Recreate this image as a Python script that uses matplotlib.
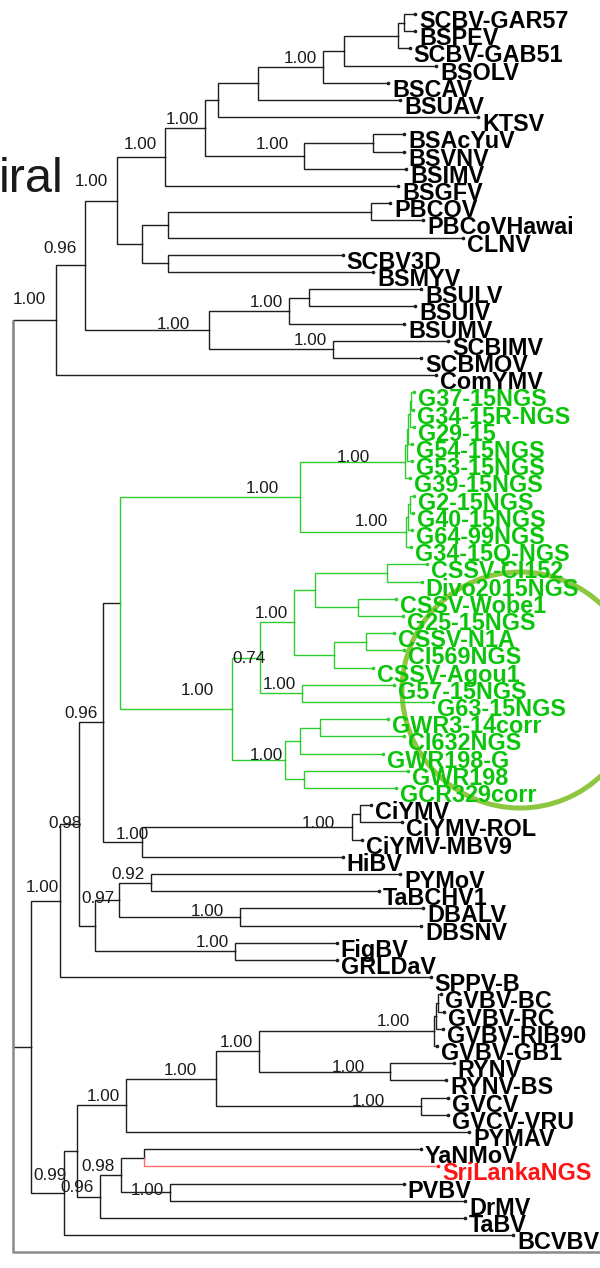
import matplotlib
matplotlib.use("Agg")
import matplotlib.pyplot as plt
from matplotlib import font_manager
from matplotlib.patches import Ellipse

# ========== DATOS ==========
TIP_NAMES = [
    "SCBV-GAR57", "BSPEV", "SCBV-GAB51", "BSOLV", "BSCAV", "BSUAV", "KTSV",
    "BSAcYuV", "BSVNV", "BSIMV", "BSGFV", "PBCOV", "PBCoVHawai", "CLNV",
    "SCBV3D", "BSMYV", "BSULV", "BSUIV", "BSUMV", "SCBIMV", "SCBMOV", "ComYMV",
    "G37-15NGS", "G34-15R-NGS", "G29-15", "G54-15NGS", "G53-15NGS", "G39-15NGS",
    "G2-15NGS", "G40-15NGS", "G64-99NGS", "G34-15Q-NGS",
    "CSSV-CI152", "Divo2015NGS", "CSSV-Wobe1", "G25-15NGS", "CSSV-N1A",
    "CI569NGS", "CSSV-Agou1", "G57-15NGS", "G63-15NGS", "GWR3-14corr",
    "CI632NGS", "GWR198-G", "GWR198", "GCR329corr",
    "CiYMV", "CiYMV-ROL", "CiYMV-MBV9", "HiBV", "PYMoV", "TaBCHV1", "DBALV",
    "DBSNV", "FigBV", "GRLDaV", "SPPV-B", "GVBV-BC", "GVBV-RC", "GVBV-RIB90",
    "GVBV-GB1", "RYNV", "RYNV-BS", "GVCV", "GVCV-VRU", "PYMAV", "YaNMoV",
    "SriLankaNGS", "PVBV", "DrMV", "TaBV", "BCVBV",
]
# profundidad de cada punta (misma escala que NODE_X)
TIP_X = [
    415, 415, 409.5, 436, 388, 400, 478,
    404, 404, 406, 398, 390, 423, 463,
    342.5, 373, 421, 415, 404, 448, 421, 436,
    414, 413, 414, 412, 412, 410,
    414, 413, 412, 411,
    427, 421.5, 396, 403, 394,
    404, 373, 394, 433, 388,
    404, 383, 407.6, 396,
    371, 402, 361.6, 342.5, 400, 379, 423,
    421, 336.8, 336.8, 430.5, 441, 444, 443,
    437, 453.5, 446, 448, 448, 469, 421,
    438, 403.7, 465, 465, 513,
]

CHILDREN = {
    "root": ["N1", "B"],
    "N1": ["N2", "ComYMV"],
    "N2": ["N3", "N4"],
    "N3": ["N5", "N6"],
    "N5": ["N7", "BSGFV"],
    "N7": ["N8", "N9"],
    "N8": ["N10", "KTSV"],
    "N10": ["N11", "BSUAV"],
    "N11": ["N12", "BSCAV"],
    "N12": ["N13", "BSOLV"],
    "N13": ["N14", "SCBV-GAB51"],
    "N14": ["SCBV-GAR57", "BSPEV"],
    "N9": ["N15", "BSIMV"],
    "N15": ["BSAcYuV", "BSVNV"],
    "N6": ["N16", "N17"],
    "N16": ["N18", "CLNV"],
    "N18": ["PBCOV", "PBCoVHawai"],
    "N17": ["SCBV3D", "BSMYV"],
    "N4": ["N19", "N20"],
    "N19": ["N21", "BSUMV"],
    "N21": ["BSULV", "BSUIV"],
    "N20": ["SCBIMV", "SCBMOV"],
    "B": ["C", "D"],
    "C": ["E", "SPPV-B"],
    "E": ["F", "G"],
    "F": ["H", "I"],
    "H": ["J", "K"],
    "J": ["L", "M"],
    "L": ["L4", "G39-15NGS"],
    "L4": ["L3", "G53-15NGS"],
    "L3": ["L2", "G54-15NGS"],
    "L2": ["L1", "G29-15"],
    "L1": ["G37-15NGS", "G34-15R-NGS"],
    "M": ["M2", "G34-15Q-NGS"],
    "M2": ["M1", "G64-99NGS"],
    "M1": ["G2-15NGS", "G40-15NGS"],
    "K": ["K1", "K2"],
    "K1": ["K3", "K4"],
    "K3": ["K5", "K6"],
    "K5": ["K7", "K8"],
    "K7": ["CSSV-CI152", "Divo2015NGS"],
    "K8": ["CSSV-Wobe1", "G25-15NGS"],
    "K6": ["K9", "CSSV-Agou1"],
    "K9": ["CSSV-N1A", "CI569NGS"],
    "K4": ["G57-15NGS", "G63-15NGS"],
    "K2": ["K10", "K11"],
    "K10": ["K12", "GWR198-G"],
    "K12": ["GWR3-14corr", "CI632NGS"],
    "K11": ["GWR198", "GCR329corr"],
    "I": ["I1", "HiBV"],
    "I1": ["I2", "CiYMV-MBV9"],
    "I2": ["CiYMV", "CiYMV-ROL"],
    "G": ["G1", "G2"],
    "G1": ["G3", "G4"],
    "G3": ["PYMoV", "TaBCHV1"],
    "G4": ["DBALV", "DBSNV"],
    "G2": ["FigBV", "GRLDaV"],
    "D": ["D1", "BCVBV"],
    "D1": ["D2", "D3"],
    "D2": ["D7", "PYMAV"],
    "D7": ["D8", "D9"],
    "D8": ["D10", "D11"],
    "D10": ["D10b", "GVBV-GB1"],
    "D10b": ["D10a", "GVBV-RIB90"],
    "D10a": ["GVBV-BC", "GVBV-RC"],
    "D11": ["RYNV", "RYNV-BS"],
    "D9": ["GVCV", "GVCV-VRU"],
    "D3": ["D4", "TaBV"],
    "D4": ["D5", "D6"],
    "D5": ["YaNMoV", "SriLankaNGS"],
    "D6": ["PVBV", "DrMV"],
}

NODE_X = {
    "root": 13.4, "N1": 56.3, "N2": 85, "N3": 116.7, "N5": 164.6, "N7": 204.7,
    "N8": 218, "N10": 258, "N11": 323, "N12": 344, "N13": 398, "N14": 404,
    "N9": 304, "N15": 373, "N6": 141.6, "N16": 168.4, "N18": 371, "N17": 168.4,
    "N4": 208.6, "N19": 289, "N21": 309, "N20": 333,
    "B": 30.6, "C": 60, "E": 79.2, "F": 103.3, "H": 119.8, "J": 300.4,
    "L": 405, "L4": 406.5, "L3": 408, "L2": 409.5, "L1": 411,
    "M": 405.6, "M2": 407.5, "M1": 409.5,
    "K": 231.5, "K1": 260, "K3": 294, "K5": 315, "K7": 386.5, "K8": 358,
    "K6": 334, "K9": 365.5, "K4": 302, "K2": 285, "K10": 300, "K12": 320,
    "K11": 303.5, "I": 141.6, "I1": 352, "I2": 360,
    "G": 94.5, "G1": 118.6, "G3": 151, "G4": 240, "G2": 235.4,
    "D": 64, "D1": 76.5, "D2": 126, "D7": 216, "D8": 259,
    "D10": 434, "D10b": 436, "D10a": 437.5, "D11": 390, "D9": 421,
    "D3": 100, "D4": 120.5, "D5": 144, "D6": 169.5,
}

SUPPORT = {
    "N1": "1.00", "N2": "0.96", "N3": "1.00", "N5": "1.00", "N7": "1.00",
    "N11": "1.00", "N9": "1.00", "N4": "1.00", "N19": "1.00", "N20": "1.00",
    "J": "1.00", "L": "1.00", "M": "1.00", "K": "1.00", "K1": "0.74",
    "K3": "1.00", "K4": "1.00", "K2": "1.00", "F": "0.96", "I": "1.00",
    "I1": "1.00", "G3": "0.92", "G1": "0.97", "G4": "1.00", "G2": "1.00",
    "E": "0.98", "C": "1.00", "D10": "1.00", "D8": "1.00", "D11": "1.00",
    "D7": "1.00", "D2": "1.00", "D9": "1.00", "D4": "0.98", "D6": "1.00",
    "D": "0.99", "D3": "0.96",
}

GREEN_ROOT = "H"
RED_TIPS = ["SriLankaNGS"]

# ========== ESTILO ==========
Y0, STEP = 14, 17.2
FRAME_BOTTOM = 1252
BLACK = "#1e1e1e"
GREEN_LINE = "#2fcc2f"
GREEN_TEXT = "#0cc40c"
RED_LINE = "#ff6b6b"
RED_TEXT = "#ff1414"
# (hueco a la izquierda del nodo, desplazamiento vertical) de cada soporte
LABEL_SHIFT = {
    "N1": (10, -22), "N2": (8, -18), "N3": (9, -21), "N5": (8, -14),
    "N9": (15, -13), "N4": (19, -7), "J": (21, -10), "L": (35, -6),
    "M": (18, -12), "K": (17, -20), "K1": (-6, -1), "K2": (2, -6),
    "I": (-7, -9), "I1": (17, -5), "G1": (4, -3), "G4": (16, -7),
    "E": (-3, -2), "C": (1, -15), "D10": (24, -11), "D11": (25, -6),
    "D7": (19, -10), "D9": (36, -6), "D6": (6, -3), "D": (-3, -19),
}

# ========== POSICIONES ==========
tip_x = dict(zip(TIP_NAMES, TIP_X))
tip_y = {n: Y0 + i * STEP for i, n in enumerate(TIP_NAMES)}
pos = {}


def layout(node):
    if node in tip_x:
        pos[node] = (tip_x[node], tip_y[node])
        return pos[node][1]
    ys = [layout(c) for c in CHILDREN[node]]
    pos[node] = (NODE_X[node], (ys[0] + ys[-1]) / 2)
    return pos[node][1]


def descendants(node):
    out = []
    for c in CHILDREN.get(node, []):
        out.append(c)
        out += descendants(c)
    return out


layout("root")
green = set(descendants(GREEN_ROOT))

# ========== PLOT ==========
fig = plt.figure(figsize=(6, 12.68), dpi=100)
ax = fig.add_axes([0, 0, 1, 1])
ax.set_xlim(0, 600)
ax.set_ylim(1268, 0)
ax.axis("off")

# marco de la imagen original
top_y = pos[CHILDREN["root"][0]][1]
ax.plot([NODE_X["root"], NODE_X["root"], 600], [top_y, FRAME_BOTTOM, FRAME_BOTTOM],
        color="#8a8a8a", lw=1.8, zorder=2.5, solid_capstyle="butt")

for parent, kids in CHILDREN.items():
    px, py = pos[parent]
    for c in kids:
        cx, cy = pos[c]
        if c in RED_TIPS:
            col = RED_LINE
        elif c in green:
            col = GREEN_LINE
        else:
            col = BLACK
        ax.plot([px, px, cx], [py, cy, cy], color=col, lw=1.0, zorder=2,
                solid_joinstyle="miter")
        if c in tip_x:
            ax.plot(cx, cy, "o", color=col if col != RED_LINE else RED_TEXT,
                    ms=1.6, zorder=3)

for name in TIP_NAMES:
    x, y = pos[name]
    if name in RED_TIPS:
        col = RED_TEXT
    elif name in green:
        col = GREEN_TEXT
    else:
        col = "black"
    ax.text(x + 4, y + 14, name, fontsize=16.8, fontweight="bold",
            family="Liberation Sans", color=col, ha="left", va="baseline",
            zorder=4)

for node, val in SUPPORT.items():
    gap, dy = LABEL_SHIFT.get(node, (6, -10))
    x, y = pos[node]
    # la rama que entra al nodo está a la altura y del nodo
    ax.text(x - gap, y + dy + 6, val, fontsize=12.3, family="Liberation Sans",
            color="#1a1a1a", ha="right", va="baseline", zorder=4)

# círculo verde alrededor del grupo CSSV
ax.add_patch(Ellipse((520, 690), 236, 236, fill=False, ec="#8dc63f", lw=3.6,
                     zorder=1))

# trozo del título de la diapositiva
names = {f.name for f in font_manager.fontManager.ttflist}
if "Liberation Sans Narrow" in names:
    ax.text(-1, 192, "iral", fontsize=44, family="Liberation Sans Narrow",
            color="#1a1a1a", ha="left", va="baseline")
else:
    ax.text(-1, 192, "iral", fontsize=35, family="Liberation Sans",
            color="#1a1a1a", ha="left", va="baseline")

fig.savefig("out.png", dpi=100)
